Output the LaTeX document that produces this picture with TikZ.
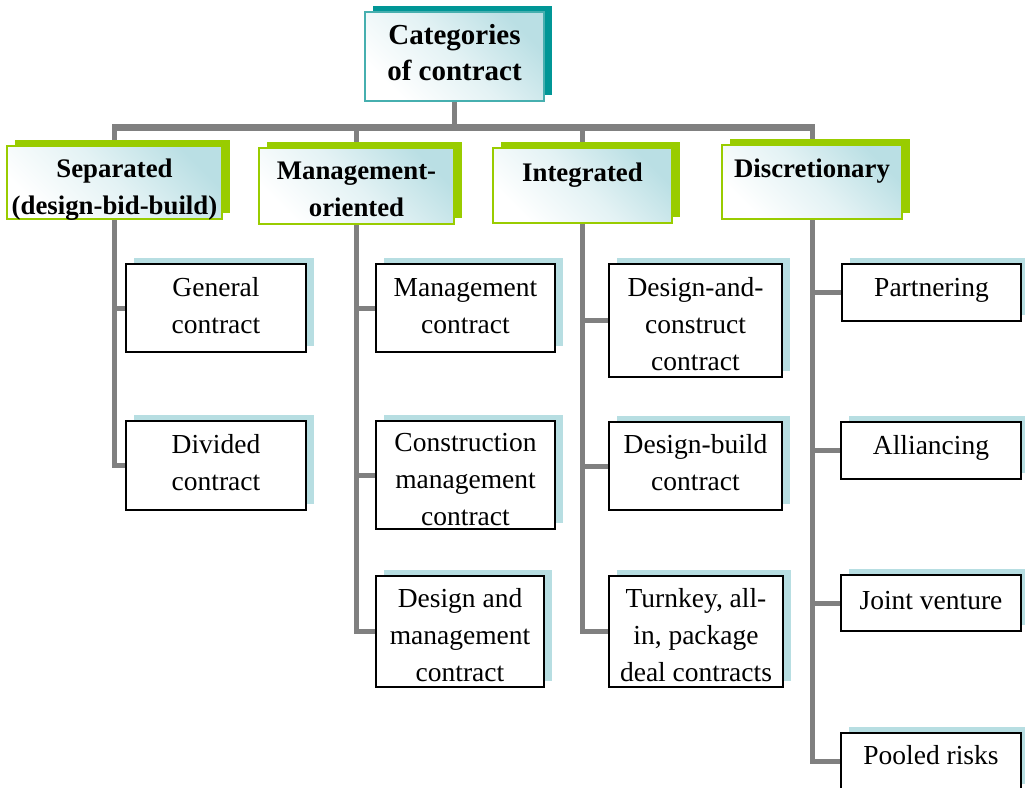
\documentclass[tikz,border=0pt]{standalone}
\usepackage{fontspec}
\setmainfont{Liberation Serif}
\usetikzlibrary{shadows,backgrounds}
\definecolor{tealc}{RGB}{0,150,150}
\definecolor{tealb}{RGB}{70,175,175}
\definecolor{greenc}{RGB}{153,204,0}
\definecolor{leafsh}{RGB}{183,222,226}
\definecolor{gradc}{RGB}{186,223,228}
\definecolor{linec}{RGB}{128,128,128}
\begin{document}
\begin{tikzpicture}[x=1pt,y=-1pt,
  base/.style={rectangle, inner sep=0pt, align=center},
  gradfill/.style={top color=gradc, bottom color=white, middle color=gradc!40!white, shading angle=-45},
  topbox/.style={base, draw=tealb, line width=1.2pt, gradfill,
    general shadow={fill=tealc, shadow xshift=8pt, shadow yshift=6pt}},
  catbox/.style={base, draw=greenc, line width=1.2pt, gradfill,
    general shadow={fill=greenc, shadow xshift=8pt, shadow yshift=6pt}},
  leaf/.style={base, draw=black, line width=1.3pt, fill=white,
    general shadow={fill=leafsh, shadow xshift=8pt, shadow yshift=6pt}},
  toptxt/.style={base, font=\fontsize{29}{36}\selectfont\bfseries},
  cattxt/.style={base, font=\fontsize{26.8}{37}\selectfont\bfseries},
  leaftxt/.style={base, font=\fontsize{27.5}{37}\selectfont},
  conn/.style={draw=linec, line width=5pt, line join=miter},
  busline/.style={draw=linec, line width=7pt, shorten <=-2.5pt, shorten >=-2.5pt}]
\clip (0,0) rectangle (1025,787);

% top
\node[topbox, minimum width=179pt, minimum height=89pt] (top) at (454.5,56.5) {};
\node[toptxt] (topt) at ([yshift=3.5pt]top.center) {Categories\\of contract};
\coordinate (bus) at (454.5,127);

% categories
\node[catbox, minimum width=215pt, minimum height=73pt] (sep) at (114.5,182.5) {};
\node[cattxt] (sept) at ([yshift=-7pt]sep.center) {Separated\\(design-bid-build)};
\node[catbox, minimum width=195pt, minimum height=76pt] (mgt) at (356.5,186) {};
\node[cattxt] (mgtt) at ([yshift=-3.5pt]mgt.center) {Management-\\oriented};
\node[catbox, minimum width=179pt, minimum height=75pt] (int) at (582.5,185.5) {};
\node[cattxt] (intt) at ([yshift=-5pt]int.center) {Integrated\\\mbox{}};
\node[catbox, minimum width=180pt, minimum height=74pt] (dis) at (812,182) {};
\node[cattxt] (dist) at ([yshift=-5pt]dis.center) {Discretionary\\\mbox{}};

% leaves
\node[leaf, minimum width=180pt, minimum height=88pt] (s1) at (216,308) {};
\node[leaftxt] (s1t) at ([yshift=2pt]s1.center) {General\\contract};
\node[leaf, minimum width=180pt, minimum height=89pt] (s2) at (216,465.5) {};
\node[leaftxt] (s2t) at ([yshift=3pt]s2.center) {Divided\\contract};

\node[leaf, minimum width=179pt, minimum height=88pt] (m1) at (465.5,308) {};
\node[leaftxt] (m1t) at ([yshift=2pt]m1.center) {Management\\contract};
\node[leaf, minimum width=179pt, minimum height=108pt] (m2) at (465.5,475) {};
\node[leaftxt] (m2t) at ([yshift=-4.5pt]m2.center) {Construction\\management\\contract};
\node[leaf, minimum width=168pt, minimum height=111pt] (m3) at (460,631.5) {};
\node[leaftxt] (m3t) at ([yshift=-4pt]m3.center) {Design and\\management\\contract};

\node[leaf, minimum width=173pt, minimum height=113pt] (i1) at (695.5,320.5) {};
\node[leaftxt] (i1t) at ([yshift=-4pt]i1.center) {Design-and-\\construct\\contract};
\node[leaf, minimum width=173pt, minimum height=88pt] (i2) at (695.5,466) {};
\node[leaftxt] (i2t) at ([yshift=3.5pt]i2.center) {Design-build\\contract};
\node[leaf, minimum width=174pt, minimum height=111pt] (i3) at (696,631.5) {};
\node[leaftxt] (i3t) at ([yshift=-4pt]i3.center) {Turnkey, all-\\in, package\\deal contracts};

\node[leaf, minimum width=179pt, minimum height=57pt] (d1) at (931.5,292.5) {};
\node[leaftxt] (d1t) at ([yshift=2pt]d1.center) {Partnering};
\node[leaf, minimum width=180pt, minimum height=57pt] (d2) at (931,450.5) {};
\node[leaftxt] (d2t) at ([yshift=3pt]d2.center) {Alliancing};
\node[leaf, minimum width=180pt, minimum height=56pt] (d3) at (931,603) {};
\node[leaftxt] (d3t) at ([yshift=2pt]d3.center) {Joint venture};
\node[leaf, minimum width=180pt, minimum height=57pt] (d4) at (931,761.5) {};
\node[leaftxt] (d4t) at ([yshift=6pt]d4.center) {Pooled risks};

\begin{scope}[on background layer]
\fill[white] (0,0) rectangle (1025,787);
\draw[conn] (top.south) -- (bus);
\draw[busline] (sep.north |- bus) -- (dis.north |- bus);
\draw[conn] (sep.north) -- (sep.north |- bus);
\draw[conn] (mgt.north) -- (mgt.north |- bus);
\draw[conn] (int.north) -- (int.north |- bus);
\draw[conn] (dis.north) -- (dis.north |- bus);

\draw[conn] (sep.south) |- (s2.west);
\draw[conn] (s1.west) -- (s1.west -| sep.south);

\draw[conn] (mgt.south) |- (m3.west);
\draw[conn] (m1.west) -- (m1.west -| mgt.south);
\draw[conn] (m2.west) -- (m2.west -| mgt.south);

\draw[conn] (int.south) |- (i3.west);
\draw[conn] (i1.west) -- (i1.west -| int.south);
\draw[conn] (i2.west) -- (i2.west -| int.south);

\draw[conn] (dis.south) |- (d4.west);
\draw[conn] (d1.west) -- (d1.west -| dis.south);
\draw[conn] (d2.west) -- (d2.west -| dis.south);
\draw[conn] (d3.west) -- (d3.west -| dis.south);
\end{scope}
\end{tikzpicture}
\end{document}
